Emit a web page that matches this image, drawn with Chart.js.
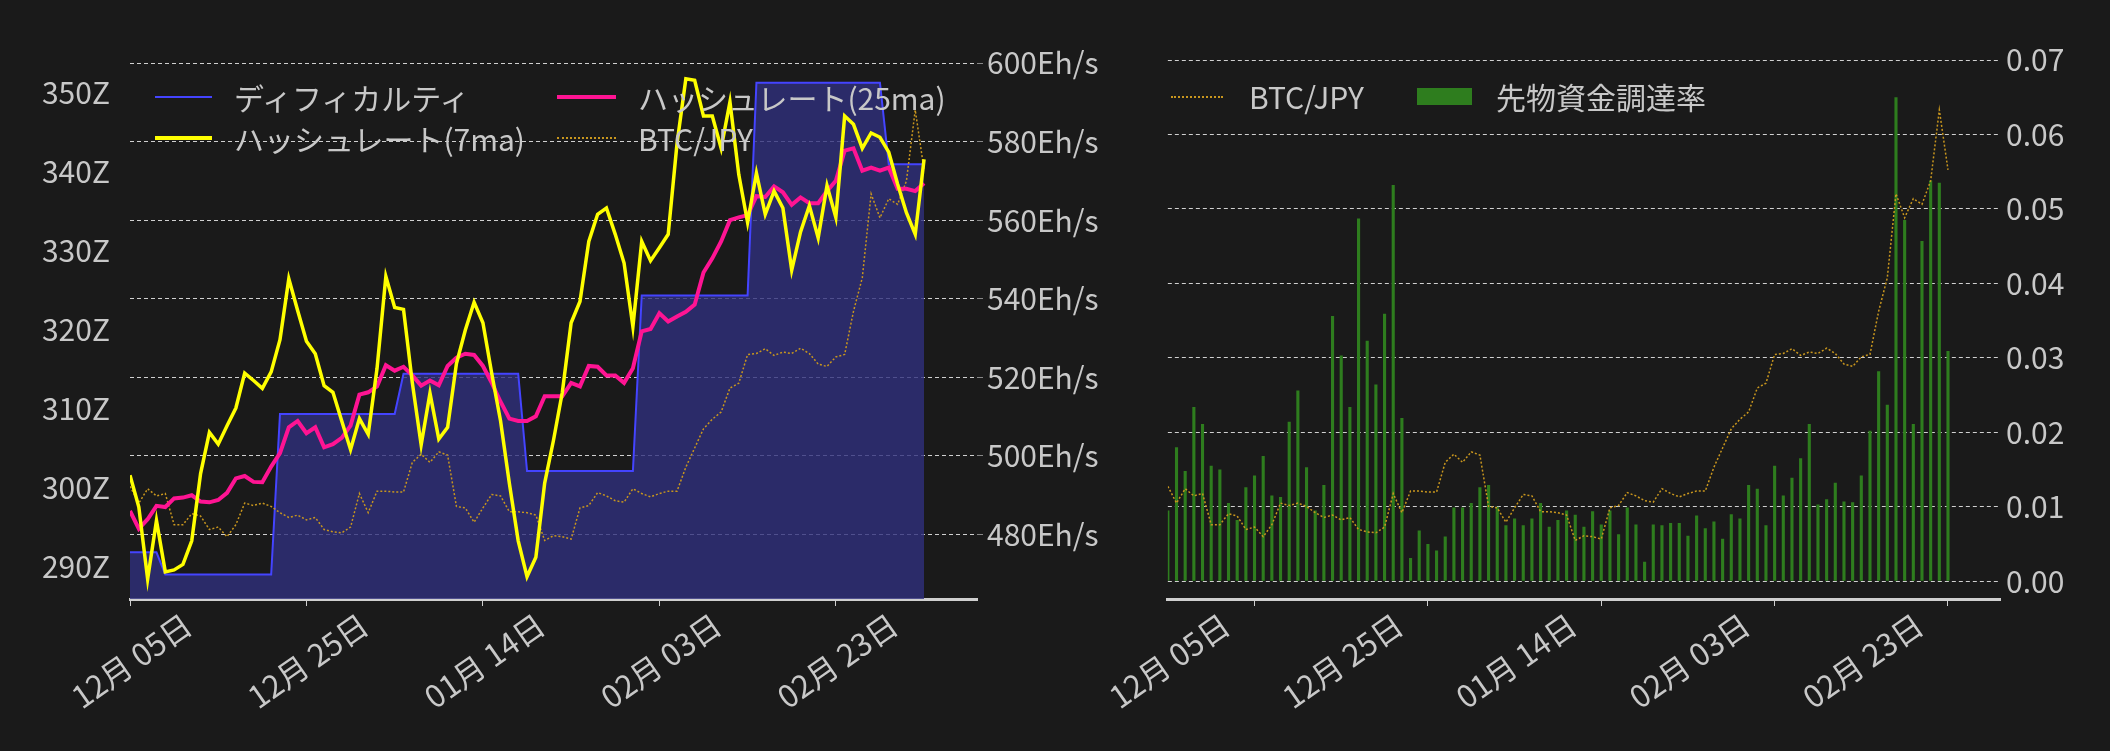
<!DOCTYPE html>
<html><head><meta charset="utf-8">
<script src="https://cdn.jsdelivr.net/npm/chart.js@4"></script>
<style>
html,body{margin:0;padding:0;background:#1a1a1a;width:2110px;height:751px;overflow:hidden;font-family:"Noto Sans CJK JP","Noto Sans",sans-serif}
canvas{position:absolute;top:0}
.lg{position:absolute;color:#c8c8c8;font-size:30px;line-height:36px;white-space:nowrap}
.ln{position:absolute}
</style></head><body>
<canvas id="c1" style="left:0" width="1110" height="751"></canvas>
<canvas id="c2" style="left:1055px" width="1055" height="751"></canvas>
<div class="ln" style="left:155px;top:96px;width:57px;height:2px;background:#4444ff"></div>
<div class="lg" style="left:234px;top:79px">ディフィカルティ</div>
<div class="ln" style="left:155px;top:136px;width:57px;height:4px;background:#ffff00"></div>
<div class="lg" style="left:234px;top:120px">ハッシュレート(7ma)</div>
<div class="ln" style="left:557px;top:95px;width:59px;height:4px;background:#ff1493"></div>
<div class="lg" style="left:638px;top:79px">ハッシュレート(25ma)</div>
<div class="ln" style="left:557px;top:137px;width:59px;border-top:2px dotted #c8961e"></div>
<div class="lg" style="left:638px;top:120px">BTC/JPY</div>
<div class="ln" style="left:1171px;top:96px;width:52px;border-top:2px dotted #c8961e"></div>
<div class="lg" style="left:1249px;top:78px">BTC/JPY</div>
<div class="ln" style="left:1417px;top:88px;width:55px;height:17px;background:#2e7d1e"></div>
<div class="lg" style="left:1496px;top:78px">先物資金調達率</div>
<script>
const tickDays = [0,20,40,60,80];
const tickLabels = ['12月 05日','12月 25日','01月 14日','02月 03日','02月 23日'];
const difficulty = [291.8,291.8,291.8,291.8,289.0,289.0,289.0,289.0,289.0,289.0,289.0,289.0,289.0,289.0,289.0,289.0,289.0,
309.3,309.3,309.3,309.3,309.3,309.3,309.3,309.3,309.3,309.3,309.3,309.3,309.3,309.3,
314.4,314.4,314.4,314.4,314.4,314.4,314.4,314.4,314.4,314.4,314.4,314.4,314.4,314.4,
302.1,302.1,302.1,302.1,302.1,302.1,302.1,302.1,302.1,302.1,302.1,302.1,302.1,
324.3,324.3,324.3,324.3,324.3,324.3,324.3,324.3,324.3,324.3,324.3,324.3,324.3,
351.2,351.2,351.2,351.2,351.2,351.2,351.2,351.2,351.2,351.2,351.2,351.2,351.2,351.2,351.2,
340.9,340.9,340.9,340.9,340.9];
const hash7 = [495.1,487,468.7,483.6,470.5,471,472.4,478.4,495.5,506,503,507.7,512.2,521.1,519.2,517.2,521.4,529.6,545.1,537,
529.2,526,517.9,516.2,508.9,501.6,509.5,505.5,522.3,545.7,537.8,537.3,518.6,502.8,516,504.3,507.3,523.5,532,539.1,
533.9,521,508.9,493,478.4,469.3,474.2,493.1,504,516.2,533.9,539.3,554.6,561.5,563.1,556.4,549.1,532.9,554.6,549.7,
553,556.4,579.5,596,595.6,586.5,586.5,578.3,590.1,571.6,559.4,572,561.5,567.4,563.1,547.3,557,563.7,555.5,568.8,
560.7,586.5,584.4,578.3,582.2,581.1,577.3,569.2,561.9,556.4,575.5];
const hash25 = [486,481.5,483.9,487.3,487,489.2,489.4,490,488.4,488.2,488.8,490.6,494.3,494.9,493.4,493.3,497.3,500.7,507.3,508.9,
505.8,507.3,502.2,503,504.6,507.7,515.6,516.2,517.7,523.1,521.7,522.7,520.5,517.9,519.2,518,522.9,525,526,525.7,
522.9,518.6,513.8,509.5,508.9,508.9,510.1,515.2,515.2,515.2,518.6,517.7,522.9,522.7,520.5,520.5,518.6,522.3,531.7,532.3,
536.3,534.2,535.5,536.7,538.5,546.7,550.3,554.6,560,560.7,561.3,566.1,565.9,568.6,567.1,563.9,565.8,564.3,564.3,567.4,
570,577.7,578.3,572.6,573.4,572.6,573.4,568,568,567.4,569.4];
const btcjpy = [1698,1663,1693,1678,1683,1618,1618,1641,1636,1608,1613,1593,1618,1663,1658,1663,1656,1643,1633,1638,
1628,1633,1608,1603,1601,1613,1683,1643,1688,1688,1686,1686,1748,1765,1748,1770,1763,1656,1653,1623,
1653,1681,1678,1645,1645,1643,1638,1585,1595,1593,1588,1653,1658,1685,1678,1668,1665,1693,1683,1676,
1683,1688,1688,1738,1778,1818,1838,1853,1903,1913,1973,1975,1985,1971,1978,1975,1986,1975,1953,1948,
1968,1973,2063,2133,2308,2258,2298,2286,2335,2483,2358];
const funding = [.0095,.018,.0148,.0234,.0211,.0155,.015,.0105,.0082,.0126,.0142,.0168,.0115,.0113,.0214,.0256,.0153,.0095,.0129,.0356,
.0303,.0234,.0487,.0323,.0264,.0359,.0532,.0219,.0031,.0068,.005,.0041,.006,.0099,.0099,.0105,.0126,.0129,.01,.0075,
.0084,.0075,.0084,.0105,.0073,.0082,.0095,.0089,.0073,.0094,.0076,.0095,.0063,.0099,.0076,.0026,.0076,.0075,.0078,.0078,
.0061,.0088,.0071,.008,.0057,.009,.0084,.0129,.0124,.0075,.0155,.0115,.0139,.0165,.0211,.0103,.011,.0132,.0107,.0106,
.0142,.0202,.0282,.0237,.065,.0485,.0211,.0457,.0538,.0535,.0309];
const zTicks=[290,300,310,320,330,340,350];
const ehTicks=[480,500,520,540,560,580,600];
const frTicks=[0,.01,.02,.03,.04,.05,.06,.07];

const pts = a => a.map((v,i)=>({x:i,y:v}));
const TXT='#c8c8c8', F={family:'"Noto Sans CJK JP","Noto Sans",sans-serif',size:30};
const FX={family:'"Noto Sans CJK JP","Noto Sans",sans-serif',size:31};
const setTicks = arr => s => { s.ticks = arr.map(v=>({value:v})); };
const mkX = () => ({type:'linear',min:0,max:96,offset:false,afterBuildTicks:setTicks(tickDays),
  afterFit:s=>{s.height=152;},
  border:{display:true,color:'#cfcfcf',width:3},
  grid:{display:true,drawOnChartArea:false,drawTicks:true,tickLength:7,color:'#cfcfcf'},
  ticks:{color:TXT,font:FX,minRotation:35,maxRotation:35,padding:0,labelOffset:58,callback:v=>tickLabels[tickDays.indexOf(v)]}});
const dot={borderDash:[2,2],borderWidth:1.5,borderColor:'#c8961e',pointRadius:0,fill:false,tension:0};

new Chart(document.getElementById('c1'),{type:'line',
 data:{datasets:[
  {order:4,data:pts(difficulty),yAxisID:'y',borderColor:'#4444ff',borderWidth:2,backgroundColor:'rgba(48,48,125,0.8)',fill:'start',pointRadius:0,tension:0},
  Object.assign({order:3,data:pts(btcjpy),yAxisID:'y2'},dot),
  {order:1,data:pts(hash7),yAxisID:'y1',borderColor:'#ffff00',borderWidth:3.5,pointRadius:0,tension:0},
  {order:2,data:pts(hash25),yAxisID:'y1',borderColor:'#ff1493',borderWidth:4,pointRadius:0,tension:0}
 ]},
 options:{responsive:false,animation:false,events:[],layout:{padding:{top:63,left:0,right:0,bottom:0}},
  plugins:{legend:{display:false},tooltip:{enabled:false}},
  scales:{x:mkX(),
   y:{position:'left',min:285.9,max:353.7,afterBuildTicks:setTicks(zTicks),afterFit:s=>{s.width=130;},
      grid:{display:false},border:{display:false},ticks:{color:TXT,font:F,padding:12,callback:v=>v+'Z'}},
   y1:{position:'right',min:463.6,max:600,afterBuildTicks:setTicks(ehTicks),afterFit:s=>{s.width=133;},
      grid:{color:'#d0d0d0',lineWidth:1,tickLength:6,tickColor:'#888'},border:{display:false,dash:[4,3]},
      ticks:{color:TXT,font:F,padding:4,callback:v=>v+'Eh/s'}},
   y2:{display:false,min:1463,max:2581}
  }}
});

new Chart(document.getElementById('c2'),{type:'bar',
 data:{datasets:[
  Object.assign({type:'line',order:1,data:pts(btcjpy),yAxisID:'y2'},dot),
  {type:'bar',order:2,data:pts(funding),yAxisID:'y',backgroundColor:'#2e7d1e',barPercentage:0.9,categoryPercentage:0.4}
 ]},
 options:{responsive:false,animation:false,events:[],layout:{padding:{top:60,left:90,right:0,bottom:0}},
  plugins:{legend:{display:false},tooltip:{enabled:false}},
  scales:{x:mkX(),
   y:{position:'right',min:-0.0024,max:0.07,afterBuildTicks:setTicks(frTicks),afterFit:s=>{s.width=110;},
      grid:{color:'#d0d0d0',lineWidth:1,drawTicks:false},border:{display:false,dash:[4,3]},
      ticks:{color:TXT,font:F,padding:6,callback:v=>v.toFixed(2)}},
   y2:{display:false,min:1463,max:2587}
  }}
});
</script>
</body></html>
